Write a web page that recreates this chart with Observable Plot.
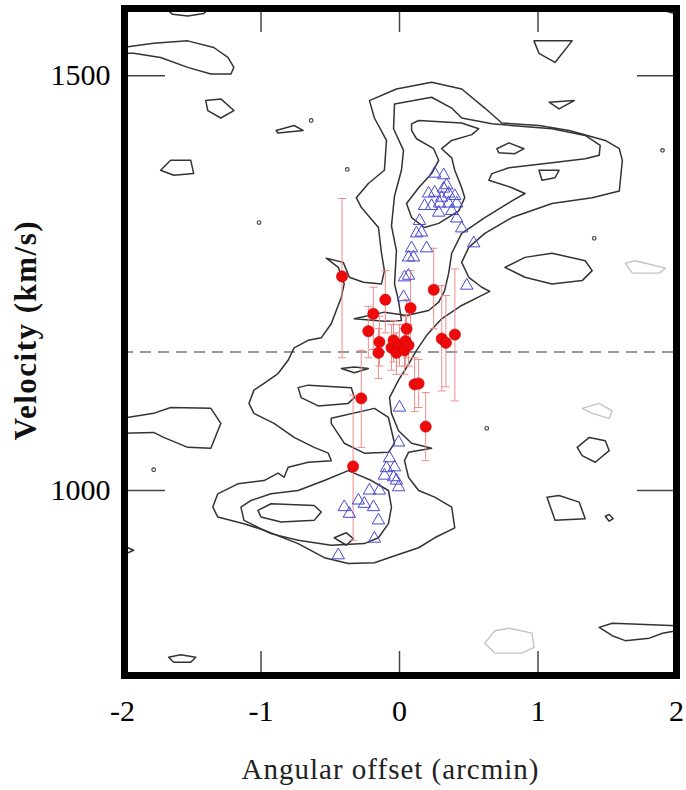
<!DOCTYPE html>
<html><head><meta charset="utf-8">
<script src="https://cdn.jsdelivr.net/npm/d3@7"></script>
<script src="https://cdn.jsdelivr.net/npm/@observablehq/plot@0.6"></script>
<style>body{margin:0;background:#fff;}</style>
</head><body><div id="chart"></div>
<script>
// ---- axes ----
const xTicks = [-2, -1, 0, 1, 2];
const xInnerTicks = [-1, 0, 1];
const yTicks = [1000, 1500];
const systemicVelocity = 1167;
const xLabel = "Angular offset (arcmin)";
const yLabel = "Velocity (km/s)";

// ---- HI / blue triangles (offset arcmin, velocity km/s) ----
const triangles = [
  [0.254,1382],[0.319,1380],[0.210,1358],[0.254,1359],[0.304,1353],[0.355,1358],[0.399,1355],
  [0.181,1343],[0.232,1343],[0.290,1346],[0.355,1346],[0.413,1346],[0.145,1325],[0.413,1328],
  [0.123,1310],[0.159,1311],[0.449,1316],[0.536,1298],[0.087,1292],[0.065,1281],[0.101,1281],
  [0.196,1292],[0.065,1259],[0.036,1257],[0.486,1247],[0.029,1233],[0.341,1368],[0.377,1337],
  [0.283,1335],[0.319,1364],
  [0.000,1100],[-0.007,1058],[-0.072,1039],[-0.036,1028],[-0.094,1027],[-0.109,1018],[-0.043,1016],
  [-0.022,1012],[-0.007,1004],[-0.217,1000],[-0.145,1000],[-0.297,988],[-0.254,984],[-0.188,980],
  [-0.399,980],[-0.362,972],[-0.152,964],[-0.181,942],[-0.442,922]
];

// ---- red points: offset, velocity, lower, upper ----
const redPoints = [
  [-0.415,1258,1160,1352],[0.247,1242,1195,1292],[-0.102,1230,1190,1265],[-0.189,1213,1170,1245],
  [0.080,1220,1175,1265],[0.051,1195,1160,1230],[-0.225,1192,1160,1222],[-0.145,1179,1150,1210],
  [-0.152,1166,1135,1195],[-0.058,1172,1145,1200],[-0.043,1181,1155,1205],[0.000,1175,1150,1200],
  [0.043,1180,1150,1210],[-0.022,1166,1140,1190],[0.036,1169,1140,1195],[0.065,1175,1150,1200],
  [0.305,1183,1120,1247],[0.335,1178,1125,1235],[0.400,1188,1108,1267],[0.109,1128,1095,1160],
  [0.138,1129,1100,1158],[-0.276,1111,1052,1169],[0.189,1077,1036,1118],[-0.335,1029,940,1115]
];

// ---- contours (closed) ----
const cOuter = [
  [-0.217,1470],[-0.022,1484],[0.232,1492],[0.449,1484],[0.616,1461],[0.739,1443],[1.007,1440],
  [1.225,1434],[1.486,1422],[1.587,1412],[1.609,1398],[1.587,1361],[1.391,1353],[1.101,1346],
  [0.812,1329],[0.616,1310],[0.500,1293],[0.449,1275],[0.500,1257],[0.594,1245],[0.652,1240],
  [0.580,1234],[0.449,1223],[0.304,1207],[0.196,1187],[0.123,1169],[0.072,1154],[-0.007,1133],
  [-0.072,1112],[-0.058,1093],[-0.007,1072],[0.087,1057],[0.232,1051],[0.065,1046],[0.036,1036],
  [0.065,1016],[0.138,1000],[0.254,992],[0.377,980],[0.399,955],[0.254,943],[0.138,931],
  [0.014,924],[-0.181,913],[-0.370,912],[-0.543,919],[-0.732,936],[-0.978,952],[-1.123,960],
  [-1.312,968],[-1.348,980],[-1.312,996],[-1.167,1008],[-0.978,1012],[-0.877,1021],[-0.833,1016],
  [-0.804,1028],[-0.659,1034],[-0.493,1036],[-0.514,1045],[-0.616,1052],[-0.761,1064],[-0.906,1081],
  [-1.051,1093],[-1.087,1105],[-1.051,1121],[-0.978,1129],[-0.877,1141],[-0.804,1157],[-0.761,1172],
  [-0.659,1181],[-0.565,1184],[-0.493,1201],[-0.420,1233],[-0.399,1249],[-0.442,1269],[-0.529,1280],
  [-0.406,1275],[-0.362,1257],[-0.261,1251],[-0.130,1249],[-0.109,1265],[-0.130,1286],[-0.152,1317],
  [-0.275,1341],[-0.312,1353],[-0.225,1370],[-0.109,1386],[-0.094,1422],[-0.181,1449]
];
const cMidUpper = [
  [-0.036,1466],[0.232,1474],[0.377,1461],[0.449,1449],[0.667,1442],[1.101,1436],[1.341,1428],
  [1.449,1416],[1.442,1404],[1.341,1400],[1.101,1395],[0.790,1389],[0.667,1382],[0.645,1374],
  [0.812,1365],[0.906,1358],[0.812,1349],[0.616,1329],[0.449,1310],[0.377,1286],[0.355,1262],
  [0.326,1241],[0.283,1227],[0.210,1217],[0.051,1211],[-0.109,1215],[-0.326,1207],[-0.109,1204],
  [0.014,1205],[-0.007,1229],[-0.036,1249],[-0.022,1289],[-0.058,1319],[-0.036,1355],[0.014,1386],
  [0.029,1410],[-0.043,1436]
];
const cMidA = [[-0.732,1124],[-0.659,1127],[-0.348,1124],[-0.326,1112],[-0.370,1105],[-0.587,1102],[-0.710,1112]];
const cMidB = [[-0.493,1087],[-0.181,1099],[-0.080,1088],[-0.036,1057],[-0.080,1046],[-0.254,1045],[-0.399,1057],[-0.493,1081]];
const cMidLower = [
  [-0.370,1024],[-0.203,1012],[-0.080,1000],[-0.058,980],[-0.080,960],[-0.152,943],[-0.254,936],
  [-0.493,934],[-0.732,940],[-0.928,948],[-1.123,964],[-1.145,980],[-1.072,988],[-0.928,996],
  [-0.732,1000],[-0.543,1012]
];
const cMidThin = [[-0.420,1147],[-0.326,1149],[-0.225,1147],[-0.326,1142]];
const cInnerUpper = [
  [0.087,1442],[0.138,1446],[0.449,1443],[0.572,1436],[0.522,1429],[0.377,1422],[0.304,1412],
  [0.377,1401],[0.399,1386],[0.449,1365],[0.471,1353],[0.428,1337],[0.283,1322],[0.181,1317],
  [0.087,1329],[0.051,1346],[0.138,1365],[0.232,1382],[0.283,1398],[0.246,1412],[0.123,1424],[0.087,1434]
];
const cInnerLower = [[-1.022,976],[-0.928,984],[-0.616,982],[-0.565,974],[-0.616,964],[-0.855,962],[-1.000,968]];
const cInnerDiamond = [[-0.471,943],[-0.384,949],[-0.333,942],[-0.384,934]];
const cIslandA = [[0.703,1412],[0.790,1419],[0.899,1412],[0.833,1406],[0.717,1407]];
const cIslandB = [[1.007,1386],[1.152,1386],[1.123,1377],[1.029,1374]];
const cB = [[-1.399,1470],[-1.290,1472],[-1.196,1458],[-1.290,1449],[-1.384,1458]];
const cC = [[-0.891,1434],[-0.761,1440],[-0.696,1434],[-0.877,1431]];
const cD = [[-1.725,1386],[-1.652,1398],[-1.507,1398],[-1.486,1382],[-1.630,1380]];
const cG = [[-1.667,799],[-1.580,802],[-1.471,799],[-1.507,793],[-1.630,793]];
const cI = [[0.971,1542],[1.246,1542],[1.123,1516],[1.007,1527]];
const cJ = [[1.080,1468],[1.261,1470],[1.152,1460]];
const cL = [[0.761,1269],[0.906,1281],[1.101,1286],[1.341,1277],[1.391,1265],[1.319,1253],[1.101,1249],[0.906,1257]];
const cM = [[1.283,1052],[1.370,1064],[1.486,1060],[1.514,1048],[1.413,1034],[1.319,1042]];
const cN = [[1.065,992],[1.152,994],[1.297,986],[1.341,966],[1.123,964]];
const cO = [[1.486,969],[1.514,971],[1.543,966],[1.514,963]];
// ---- contours (open, cut by the frame) ----
const oA = [[-2,1534],[-1.775,1539],[-1.529,1542],[-1.341,1534],[-1.239,1522],[-1.196,1510],[-1.217,1502],[-1.362,1502],[-1.529,1510],[-1.725,1522],[-1.920,1527],[-2,1527]];
const oE = [[-2,1087],[-1.775,1093],[-1.652,1100],[-1.362,1099],[-1.290,1081],[-1.362,1051],[-1.529,1052],[-1.703,1064],[-1.775,1070],[-2,1069]];
const oF = [[-2,934],[-1.920,928],[-2,922]];
const oH = [[-1.688,1581],[-1.638,1574],[-1.529,1572],[-1.413,1575],[-1.377,1581]];
const oK = [[1.862,1581],[2,1574]];
const oP = [[2,837],[1.681,839],[1.536,840],[1.442,835],[1.536,825],[1.630,819],[1.804,822],[1.899,828],[2,831]];
// ---- faint (negative) contours ----
const gA = [[1.630,1274],[1.703,1277],[1.920,1268],[1.877,1262],[1.681,1262]];
const gB = [[1.319,1099],[1.442,1105],[1.536,1096],[1.514,1087],[1.391,1093]];
const gC = [[0.616,816],[0.688,831],[0.790,834],[0.957,828],[0.971,811],[0.884,804],[0.688,804]];
// ---- tiny contour specks ----
const specks = [[-0.638,1446],[-0.377,1387],[-1.014,1323],[1.899,1410],[1.406,1304],[0.630,1075],[-1.775,1025]];

const closedList = [cOuter,cMidUpper,cMidA,cMidB,cMidLower,cMidThin,cInnerUpper,cInnerLower,cInnerDiamond,cIslandA,cIslandB,cB,cC,cD,cG,cI,cJ,cL,cM,cN,cO];
const openList = [oA,oE,oF,oH,oK,oP];
const greyList = [gA,gB,gC];
const toRows = list => list.flatMap((c, i) => c.map(([x, y]) => ({x, y, id: i})));

const capSymbol = {draw(ctx, size) { const w = Math.sqrt(size / Math.PI); ctx.moveTo(-w, 0); ctx.lineTo(w, 0); }};

const plotH = 790 - 8 - 115, plotW = 686 - 122 - 10;
const chart = Plot.plot({
  width: 686, height: 790,
  marginLeft: 122, marginRight: 10, marginTop: 8, marginBottom: 115,
  x: {domain: [-2, 2]},
  y: {domain: [777, 1581]},
  style: {fontFamily: "'Liberation Serif', 'Times New Roman', serif", background: "white", color: "black"},
  marks: [
    Plot.ruleY([systemicVelocity], {stroke: "#777", strokeWidth: 1.6, strokeDasharray: "11,7"}),
    Plot.line(toRows(greyList), {x: "x", y: "y", z: "id", curve: "linear-closed", stroke: "#c4c4c4", strokeWidth: 1.4}),
    Plot.line(toRows(closedList), {x: "x", y: "y", z: "id", curve: "linear-closed", stroke: "#333", strokeWidth: 1.5}),
    Plot.line(toRows(openList), {x: "x", y: "y", z: "id", stroke: "#333", strokeWidth: 1.5}),
    Plot.dot(specks, {x: d => d[0], y: d => d[1], r: 1.8, stroke: "#444", strokeWidth: 1.2, fill: "none"}),
    Plot.ruleX(redPoints, {x: d => d[0], y1: d => d[2], y2: d => d[3], stroke: "#f08c8c", strokeWidth: 1}),
    Plot.dot(redPoints, {x: d => d[0], y: d => d[2], symbol: capSymbol, r: 4, stroke: "#f08c8c", strokeWidth: 1}),
    Plot.dot(redPoints, {x: d => d[0], y: d => d[3], symbol: capSymbol, r: 4, stroke: "#f08c8c", strokeWidth: 1}),
    Plot.dot(triangles, {x: d => d[0], y: d => d[1], symbol: "triangle", r: 4.6, stroke: "#4848d0", strokeWidth: 1, fill: "none"}),
    Plot.dot(redPoints, {x: d => d[0], y: d => d[1], r: 5.6, fill: "#ee0a0a", stroke: "#d00000", strokeWidth: 0.6}),
    Plot.ruleX(xInnerTicks, {insetTop: plotH - 24, stroke: "#444", strokeWidth: 1.5}),
    Plot.ruleX(xInnerTicks, {insetBottom: plotH - 24, stroke: "#444", strokeWidth: 1.5}),
    Plot.ruleY(yTicks, {insetRight: plotW - 43, stroke: "#444", strokeWidth: 1.5}),
    Plot.ruleY(yTicks, {insetLeft: plotW - 39, stroke: "#444", strokeWidth: 1.5}),
    Plot.frame({stroke: "black", strokeWidth: 7, insetLeft: 2}),
    Plot.axisX(xTicks, {tickSize: 0, tickPadding: 24, fontSize: 30, tickFormat: d => String(d), label: null}),
    Plot.axisY(yTicks, {tickSize: 0, tickPadding: 12, fontSize: 30, tickFormat: d => String(d), label: null}),
    Plot.text([xLabel], {frameAnchor: "bottom", dy: 103, dx: -9, fontSize: 29, fill: "#222"}),
    Plot.text([yLabel], {frameAnchor: "left", textAnchor: "middle", dx: -96, dy: -12, rotate: -90, fontSize: 31, fontWeight: "bold", fill: "#111"})
  ]
});
chart.querySelectorAll("text").forEach(t => {
  if (t.textContent === xLabel) t.setAttribute("letter-spacing", "1");
  if (t.textContent === yLabel) t.setAttribute("letter-spacing", "1.5");
});
document.getElementById("chart").appendChild(chart);
</script>
</body></html>
